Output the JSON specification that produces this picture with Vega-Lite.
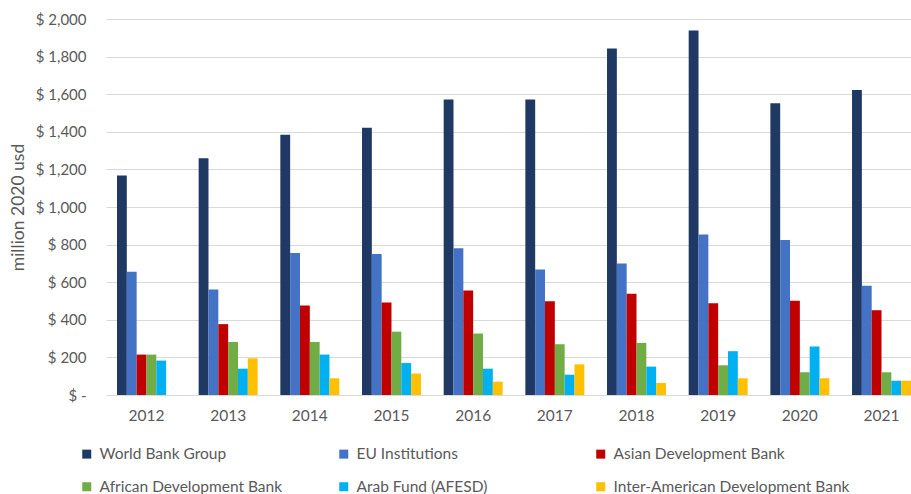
{
  "$schema": "https://vega.github.io/schema/vega-lite/v6.json",
  "autosize": {"type": "none"},
  "padding": {"left": 106, "top": 19, "right": 0, "bottom": 99},
  "width": 805,
  "height": 376,
  "background": "white",
  "config": {"view": {"stroke": null}, "font": "Lato"},
  "data": {"values": [
    {"year": "2012", "org": "World Bank Group", "v": 1167},
    {"year": "2012", "org": "EU Institutions", "v": 655},
    {"year": "2012", "org": "Asian Development Bank", "v": 215},
    {"year": "2012", "org": "African Development Bank", "v": 215},
    {"year": "2012", "org": "Arab Fund (AFESD)", "v": 183},
    {"year": "2013", "org": "World Bank Group", "v": 1259},
    {"year": "2013", "org": "EU Institutions", "v": 561},
    {"year": "2013", "org": "Asian Development Bank", "v": 377},
    {"year": "2013", "org": "African Development Bank", "v": 282},
    {"year": "2013", "org": "Arab Fund (AFESD)", "v": 140},
    {"year": "2013", "org": "Inter-American Development Bank", "v": 195},
    {"year": "2014", "org": "World Bank Group", "v": 1384},
    {"year": "2014", "org": "EU Institutions", "v": 755},
    {"year": "2014", "org": "Asian Development Bank", "v": 476},
    {"year": "2014", "org": "African Development Bank", "v": 282},
    {"year": "2014", "org": "Arab Fund (AFESD)", "v": 215},
    {"year": "2014", "org": "Inter-American Development Bank", "v": 89},
    {"year": "2015", "org": "World Bank Group", "v": 1421},
    {"year": "2015", "org": "EU Institutions", "v": 750},
    {"year": "2015", "org": "Asian Development Bank", "v": 492},
    {"year": "2015", "org": "African Development Bank", "v": 337},
    {"year": "2015", "org": "Arab Fund (AFESD)", "v": 170},
    {"year": "2015", "org": "Inter-American Development Bank", "v": 114},
    {"year": "2016", "org": "World Bank Group", "v": 1572},
    {"year": "2016", "org": "EU Institutions", "v": 780},
    {"year": "2016", "org": "Asian Development Bank", "v": 556},
    {"year": "2016", "org": "African Development Bank", "v": 327},
    {"year": "2016", "org": "Arab Fund (AFESD)", "v": 140},
    {"year": "2016", "org": "Inter-American Development Bank", "v": 71},
    {"year": "2017", "org": "World Bank Group", "v": 1572},
    {"year": "2017", "org": "EU Institutions", "v": 668},
    {"year": "2017", "org": "Asian Development Bank", "v": 499},
    {"year": "2017", "org": "African Development Bank", "v": 270},
    {"year": "2017", "org": "Arab Fund (AFESD)", "v": 108},
    {"year": "2017", "org": "Inter-American Development Bank", "v": 163},
    {"year": "2018", "org": "World Bank Group", "v": 1843},
    {"year": "2018", "org": "EU Institutions", "v": 700},
    {"year": "2018", "org": "Asian Development Bank", "v": 538},
    {"year": "2018", "org": "African Development Bank", "v": 277},
    {"year": "2018", "org": "Arab Fund (AFESD)", "v": 151},
    {"year": "2018", "org": "Inter-American Development Bank", "v": 64},
    {"year": "2019", "org": "World Bank Group", "v": 1939},
    {"year": "2019", "org": "EU Institutions", "v": 854},
    {"year": "2019", "org": "Asian Development Bank", "v": 488},
    {"year": "2019", "org": "African Development Bank", "v": 158},
    {"year": "2019", "org": "Arab Fund (AFESD)", "v": 233},
    {"year": "2019", "org": "Inter-American Development Bank", "v": 89},
    {"year": "2020", "org": "World Bank Group", "v": 1552},
    {"year": "2020", "org": "EU Institutions", "v": 824},
    {"year": "2020", "org": "Asian Development Bank", "v": 501},
    {"year": "2020", "org": "African Development Bank", "v": 121},
    {"year": "2020", "org": "Arab Fund (AFESD)", "v": 258},
    {"year": "2020", "org": "Inter-American Development Bank", "v": 89},
    {"year": "2021", "org": "World Bank Group", "v": 1622},
    {"year": "2021", "org": "EU Institutions", "v": 581},
    {"year": "2021", "org": "Asian Development Bank", "v": 451},
    {"year": "2021", "org": "African Development Bank", "v": 121},
    {"year": "2021", "org": "Arab Fund (AFESD)", "v": 76},
    {"year": "2021", "org": "Inter-American Development Bank", "v": 76}
  ]},
  "mark": {"type": "bar"},
  "encoding": {
    "x": {
      "field": "year", "type": "nominal",
      "scale": {"paddingInner": 0.278, "paddingOuter": 0.0673, "align": 1},
      "axis": {"title": null, "labelAngle": 0, "ticks": false, "domain": false, "labelPadding": 13, "labelFontSize": 15.5, "labelColor": "#595959"}
    },
    "xOffset": {
      "field": "org", "type": "nominal",
      "sort": ["World Bank Group", "EU Institutions", "Asian Development Bank", "African Development Bank", "Arab Fund (AFESD)", "Inter-American Development Bank"],
      "scale": {"paddingInner": 0, "paddingOuter": 0}
    },
    "y": {
      "field": "v", "type": "quantitative",
      "scale": {"domain": [0, 2000], "nice": false},
      "axis": {
        "title": "million 2020 usd",
        "values": [0, 200, 400, 600, 800, 1000, 1200, 1400, 1600, 1800, 2000],
        "labelExpr": "datum.value == 0 ? '$ -' : '$ ' + format(datum.value, ',')",
        "ticks": false, "domain": false,
        "labelPadding": 20, "labelFontSize": 15, "labelColor": "#595959",
        "gridColor": "#d9d9d9", "gridWidth": 1,
        "titleFontSize": 17.5, "titleFontWeight": "normal", "titleColor": "#595959",
        "titleX": -88, "titleY": 188, "titleBaseline": "middle", "titleAlign": "center", "titleAngle": -90
      }
    },
    "color": {
      "field": "org", "type": "nominal",
      "scale": {
        "domain": ["World Bank Group", "EU Institutions", "Asian Development Bank", "African Development Bank", "Arab Fund (AFESD)", "Inter-American Development Bank"],
        "range": ["#203864", "#4472C4", "#C00000", "#70AD47", "#00B0F0", "#FFC000"]
      },
      "legend": {
        "title": null, "orient": "none", "legendX": -27, "legendY": 427,
        "direction": "horizontal", "columns": 3, "gridAlign": "all",
        "columnPadding": 0, "rowPadding": 16,
        "symbolType": "square", "symbolSize": 81, "symbolStrokeWidth": 0,
        "labelFontSize": 15.5, "labelColor": "#595959", "labelOffset": 5, "labelLimit": 400
      }
    }
  }
}
